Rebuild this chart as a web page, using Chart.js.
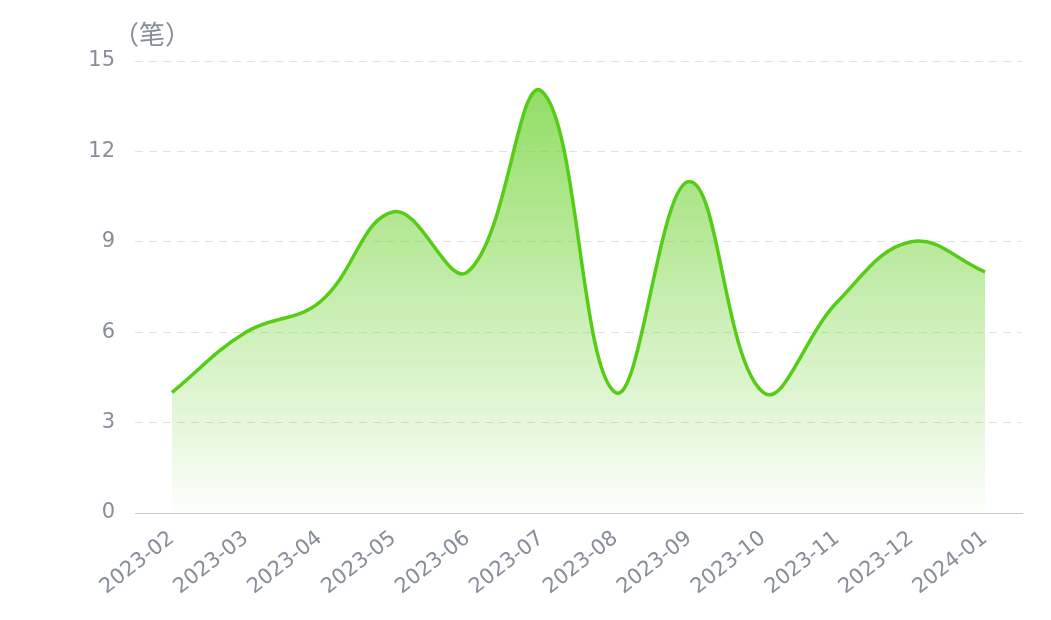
<!DOCTYPE html>
<html lang="zh">
<head>
<meta charset="UTF-8">
<title>笔数</title>
<style>
  html, body { margin: 0; padding: 0; background: #fff; }
  .chart-container { position: relative; width: 1051px; height: 620px; }
</style>
</head>
<body>
<div class="chart-container">
  <canvas id="countChart"></canvas>
</div>
<script src="https://cdn.jsdelivr.net/npm/chart.js"></script>
<script>
  // 月份
  const months = ['2023-02', '2023-03', '2023-04', '2023-05', '2023-06', '2023-07',
                  '2023-08', '2023-09', '2023-10', '2023-11', '2023-12', '2024-01'];
  // 每月笔数
  const counts = [4, 6, 7, 10, 8, 14, 4, 11, 4, 7, 9, 8];
  // y轴刻度
  const yTicks = [0, 3, 6, 9, 12, 15];
  const unitLabel = '（笔）';

  const labelColor = '#878d99';
  const fontFamily = '"DejaVu Sans", "Noto Sans CJK SC", sans-serif';

  // 单位文字
  const unitPlugin = {
    id: 'unitLabel',
    afterDraw(chart) {
      const { ctx, chartArea } = chart;
      ctx.save();
      ctx.font = '26px "Noto Sans CJK SC", sans-serif';
      ctx.fillStyle = labelColor;
      ctx.textAlign = 'left';
      ctx.textBaseline = 'middle';
      ctx.fillText(unitLabel, chartArea.left - 22, chartArea.top - 27);
      ctx.restore();
    }
  };

  const config = {
    type: 'line',
    data: {
      labels: months,
      datasets: [{
        data: counts,
        borderColor: '#55cc16',
        borderWidth: 3.5,
        pointRadius: 0,
        tension: 0.4,
        fill: 'origin',
        backgroundColor(context) {
          const { ctx, chartArea } = context.chart;
          if (!chartArea) return 'rgba(85,204,22,0.4)';
          const g = ctx.createLinearGradient(0, chartArea.top, 0, chartArea.bottom);
          g.addColorStop(0, 'rgba(110,210,50,0.8)');
          g.addColorStop(1, 'rgba(110,210,50,0.02)');
          return g;
        }
      }]
    },
    options: {
      responsive: true,
      maintainAspectRatio: false,
      animation: false,
      layout: { padding: { top: 61, right: 29, bottom: 0, left: 0 } },
      plugins: {
        legend: { display: false },
        tooltip: { enabled: false }
      },
      scales: {
        x: {
          offset: true,
          grid: { display: false },
          border: { display: true, color: '#c8cbd0', width: 1 },
          ticks: {
            color: labelColor,
            font: { size: 21, family: fontFamily },
            maxRotation: 38,
            minRotation: 38,
            padding: 5,
            autoSkip: false
          },
          afterFit(scale) { scale.height = 107; }
        },
        y: {
          min: 0,
          max: 15,
          afterBuildTicks(scale) { scale.ticks = yTicks.map(v => ({ value: v })); },
          grid: { color: '#dfe1e5', lineWidth: 1, drawTicks: false },
          border: { display: false, dash: [8, 6] },
          ticks: {
            color: labelColor,
            font: { size: 21, family: fontFamily },
            padding: 20
          },
          afterFit(scale) { scale.width = 135; }
        }
      }
    },
    plugins: [unitPlugin]
  };

  const ctx = document.querySelector('#countChart');
  const countChart = new Chart(ctx, config);
</script>
</body>
</html>
